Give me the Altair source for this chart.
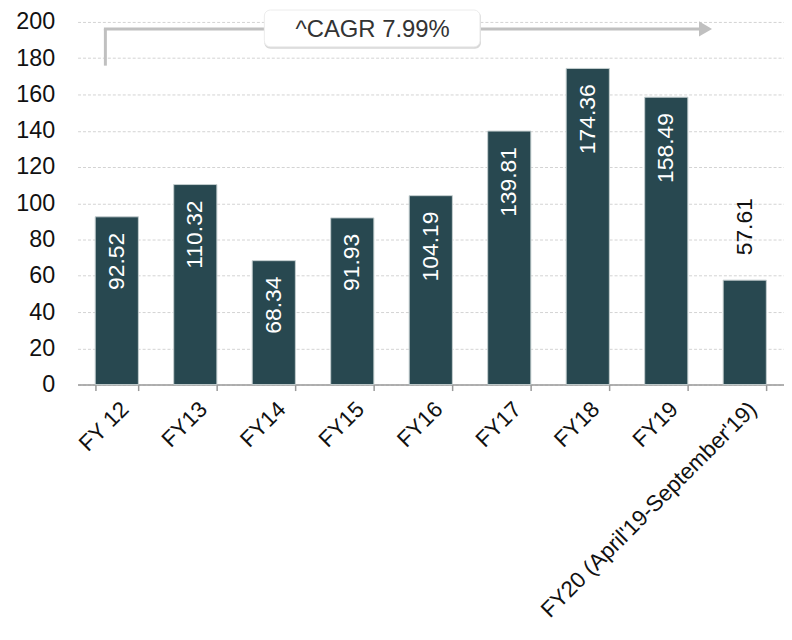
import altair as alt
import pandas as pd

categories = ["FY 12", "FY13", "FY14", "FY15", "FY16", "FY17", "FY18", "FY19",
              "FY20 (April'19-September'19)"]
values = [92.52, 110.32, 68.34, 91.93, 104.19, 139.81, 174.36, 158.49, 57.61]
y_ticks = [0, 20, 40, 60, 80, 100, 120, 140, 160, 180, 200]
cagr_label = ["^CAGR 7.99%"]

df = pd.DataFrame({"cat": categories, "value": values})
df["label"] = df["value"].map(lambda v: f"{v:.2f}")

FONT = "Liberation Sans"
BAR = "#284850"

x = alt.X("cat:N", sort=categories, title=None,
          scale=alt.Scale(paddingInner=0.45, paddingOuter=0.225),
          axis=alt.Axis(labelAngle=-45, labelFontSize=22.5, labelFont=FONT, labelColor="#111",
                        domainColor="#999", tickColor="#999", tickSize=6, tickBand="extent",
                        labelPadding=7, labelLimit=0, grid=False, domainWidth=1.5, tickWidth=1.5))
y = alt.Y("value:Q", title=None, scale=alt.Scale(domain=[0, 200]),
          axis=alt.Axis(values=y_ticks, domain=False, ticks=False, labelPadding=23,
                        labelFontSize=23.5, labelFont=FONT, labelColor="#111",
                        gridColor="#d3d3d3", gridDash=[3, 2], gridWidth=1))

base = alt.Chart(df)
bars = base.mark_bar(color=BAR, stroke="#c5cfd0", strokeWidth=1).encode(x=x, y=y)
inside = base.transform_filter("datum.value >= 60").mark_text(
    angle=270, align="right", baseline="middle", dx=-16, color="white",
    fontSize=23, font=FONT).encode(x=x, y=y, text="label:N")
outside = base.transform_filter("datum.value < 60").mark_text(
    angle=270, align="left", baseline="middle", dx=25, color="#111",
    fontSize=23, font=FONT).encode(x=x, y=y, text="label:N")

one = alt.Data(values=[{"t": cagr_label[0]}])
ARROW = "#c0c0c0"
vline = alt.Chart(one).mark_rule(color=ARROW, strokeWidth=3).encode(
    x=alt.value(28), y=alt.value(7), y2=alt.value(44))
hline = alt.Chart(one).mark_rule(color=ARROW, strokeWidth=3).encode(
    x=alt.value(26.5), x2=alt.value(626), y=alt.value(7))
head = alt.Chart(one).mark_point(shape="triangle-right", filled=True, color=ARROW,
                                 opacity=1, size=230).encode(
    x=alt.value(632), y=alt.value(7))
shadow = alt.Chart(one).mark_rect(color="#d8d8d8", cornerRadius=6).encode(
    x=alt.value(188), x2=alt.value(406), y=alt.value(-11), y2=alt.value(27))
box = alt.Chart(one).mark_rect(color="white", cornerRadius=6, stroke="#ececec",
                               strokeWidth=1).encode(
    x=alt.value(188), x2=alt.value(405), y=alt.value(-12), y2=alt.value(25))
btext = alt.Chart(one).mark_text(fontSize=24, font=FONT, color="#333",
                                 baseline="middle", align="center").encode(
    x=alt.value(297), y=alt.value(8), text="t:N")

chart = alt.layer(bars, inside, outside, vline, hline, head, shadow, box, btext).properties(
    width=711, height=365,
    autosize=alt.AutoSizeParams(type="none"),
    padding={"left": 70, "top": 12, "right": 0, "bottom": 250},
).configure_view(stroke=None)

chart.save("out.html", embed_options={"renderer": "svg", "actions": False})
